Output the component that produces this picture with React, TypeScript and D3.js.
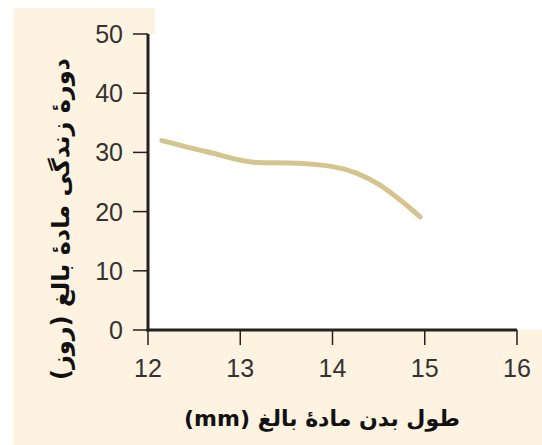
import React from "react";
import * as d3 from "d3";

const bodyLength = [12.15, 12.64, 13.18, 13.54, 14.0, 14.26, 14.51, 14.73, 14.95];
const lifeSpan = [32.0, 30.1, 28.3, 28.2, 27.6, 26.5, 24.5, 22.0, 19.1];
const xTicks = [12, 13, 14, 15, 16];
const yTicks = [0, 10, 20, 30, 40, 50];
const xTitle = "طول بدن مادهٔ بالغ (mm)";
const yTitle = "دورهٔ زندگی مادهٔ بالغ (روز)";

const W = 542;
const H = 445;
const CREAM = "#fef2e1";

export default function App() {
  const x = d3.scaleLinear().domain([12, 16]).range([148, 517]);
  const y = d3.scaleLinear().domain([0, 50]).range([330, 34]);
  const pts: [number, number][] = bodyLength.map((v, i) => [v, lifeSpan[i]]);
  const line = d3
    .line<[number, number]>()
    .x((d) => x(d[0]))
    .y((d) => y(d[1]))
    .curve(d3.curveMonotoneX);
  const numFont = "'Liberation Sans Narrow', 'Liberation Sans', Arial, sans-serif";
  return (
    <svg
      width={W}
      height={H}
      style={{ position: "absolute", left: 0, top: 0, display: "block" }}
    >
      <rect x={0} y={0} width={W} height={H} fill="#ffffff" />
      <rect x={13} y={8} width={W - 13} height={H - 8} fill={CREAM} />
      <rect x={x(12)} y={0} width={W - x(12)} height={y(0)} fill="#ffffff" />
      <rect x={x(12)} y={8} width={7} height={y(50) - 8} fill={CREAM} />
      <path d={line(pts) || ""} fill="none" stroke="#d6c48f" strokeWidth={5} strokeLinecap="round" />
      {yTicks.map((t) => (
        <g key={"y" + t}>
          <line x1={x(12) - 15} x2={x(12)} y1={y(t)} y2={y(t)} stroke="#222" strokeWidth={1.5} />
          <text
            x={x(12) - 25}
            y={y(t)}
            dy="0.36em"
            textAnchor="end"
            fontFamily={numFont}
            fontSize={25}
            fill="#333"
          >
            {t}
          </text>
        </g>
      ))}
      {xTicks.map((t) => (
        <g key={"x" + t}>
          <line x1={x(t)} x2={x(t)} y1={y(0)} y2={y(0) + 15} stroke="#222" strokeWidth={1.5} />
          <text
            x={x(t)}
            y={377}
            textAnchor="middle"
            fontFamily={numFont}
            fontSize={25}
            fill="#333"
          >
            {t}
          </text>
        </g>
      ))}
      <line x1={x(12)} x2={x(12)} y1={y(50)} y2={y(0) + 1.5} stroke="#222" strokeWidth={3} />
      <line x1={x(12) - 1.5} x2={x(16)} y1={y(0)} y2={y(0)} stroke="#222" strokeWidth={3} />
      <text
        x={322}
        y={426}
        textAnchor="middle"
        direction="rtl"
        fontFamily="'DejaVu Sans', sans-serif"
        fontWeight="bold"
        fontSize={22}
        fill="#111"
      >
        {xTitle}
      </text>
      <text
        transform="translate(69,219) rotate(-90)"
        textAnchor="middle"
        direction="rtl"
        fontFamily="'DejaVu Sans', sans-serif"
        fontWeight="bold"
        fontSize={24}
        fill="#111"
      >
        {yTitle}
      </text>
    </svg>
  );
}
